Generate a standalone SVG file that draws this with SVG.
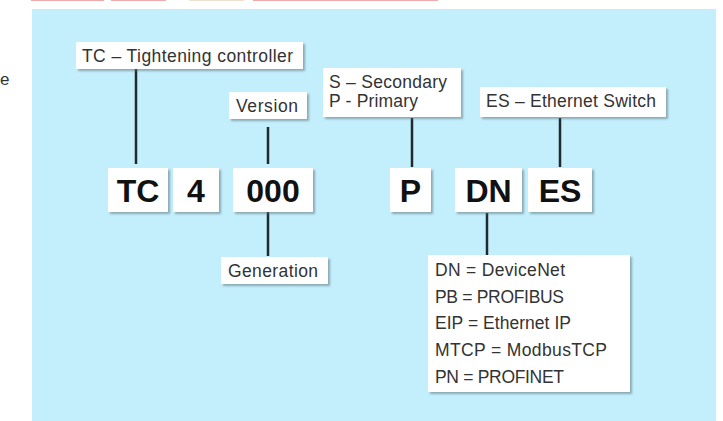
<svg xmlns="http://www.w3.org/2000/svg" width="723" height="421" viewBox="0 0 723 421">
<defs>
<filter id="sh" x="-10%" y="-10%" width="130%" height="140%">
<feDropShadow dx="2" dy="2" stdDeviation="0.8" flood-color="#5a6f78" flood-opacity="0.55"/>
</filter>
</defs>
<style>
.box{fill:#ffffff;filter:url(#sh)}
.lbl{font-family:"Liberation Sans",Arial,sans-serif;font-size:17.5px;fill:#333}
.big{font-family:"Liberation Sans",Arial,sans-serif;font-size:32px;font-weight:bold;fill:#111;text-anchor:middle}
.con{stroke:#1e2a2e;stroke-width:2.5;fill:none}
</style>
<rect x="0" y="0" width="723" height="421" fill="#ffffff"/>
<g id="topmarks">
<rect x="31" y="0" width="73" height="1" fill="#f1a8a8"/>
<rect x="111" y="0" width="55" height="1" fill="#f1a8a8"/>
<rect x="189" y="0" width="55" height="1" fill="#efe3cf"/>
<rect x="253" y="0" width="185" height="1" fill="#f1a8a8"/>
</g>
<text x="0" y="85" class="lbl" style="font-size:17px">e</text>
<rect id="panel" x="32" y="9" width="684" height="412" fill="#c3eefc"/>
<g id="connectors">
<line class="con" x1="136" y1="69" x2="136" y2="164"/>
<line class="con" x1="268" y1="127" x2="268" y2="164"/>
<line class="con" x1="268" y1="212" x2="268" y2="256"/>
<line class="con" x1="412" y1="118" x2="412" y2="167"/>
<line class="con" x1="560" y1="118" x2="560" y2="167"/>
<line class="con" x1="487" y1="213" x2="487" y2="256"/>
</g>
<g id="tc-label">
<rect class="box" x="76" y="42" width="227" height="27"/>
<text class="lbl" x="82" y="62" textLength="211" lengthAdjust="spacing">TC – Tightening controller</text>
</g>
<g id="version">
<rect class="box" x="229" y="92" width="78" height="27"/>
<text class="lbl" x="236" y="112" textLength="62" lengthAdjust="spacing">Version</text>
</g>
<g id="sp-label">
<rect class="box" x="323" y="68" width="138" height="49"/>
<text class="lbl" x="329" y="88" textLength="118" lengthAdjust="spacing">S – Secondary</text>
<text class="lbl" x="329" y="107" textLength="89" lengthAdjust="spacing">P - Primary</text>
</g>
<g id="es-label">
<rect class="box" x="480" y="87" width="186" height="30"/>
<text class="lbl" x="486" y="107" textLength="170" lengthAdjust="spacing">ES – Ethernet Switch</text>
</g>
<g id="tc">
<rect class="box" x="108" y="168" width="60" height="44"/>
<text class="big" x="138" y="202">TC</text>
</g>
<g id="four">
<rect class="box" x="173" y="168" width="46" height="44"/>
<text class="big" x="196" y="202">4</text>
</g>
<g id="zeros">
<rect class="box" x="233" y="168" width="80" height="44"/>
<text class="big" x="273" y="202">000</text>
</g>
<g id="p">
<rect class="box" x="390" y="168" width="41" height="44"/>
<text class="big" x="410.5" y="202">P</text>
</g>
<g id="dn">
<rect class="box" x="455" y="168" width="67" height="44"/>
<text class="big" x="488.5" y="202">DN</text>
</g>
<g id="es">
<rect class="box" x="528" y="168" width="64" height="44"/>
<text class="big" x="560" y="202">ES</text>
</g>
<g id="generation">
<rect class="box" x="221" y="257" width="107" height="27"/>
<text class="lbl" x="228" y="277" textLength="90" lengthAdjust="spacing">Generation</text>
</g>
<g id="bus-list">
<rect class="box" x="428" y="255" width="202" height="137"/>
<text class="lbl" x="435" y="276" textLength="130" lengthAdjust="spacing">DN = DeviceNet</text>
<text class="lbl" x="435" y="303" textLength="129" lengthAdjust="spacing">PB = PROFIBUS</text>
<text class="lbl" x="435" y="329" textLength="136" lengthAdjust="spacing">EIP = Ethernet IP</text>
<text class="lbl" x="435" y="356" textLength="172" lengthAdjust="spacing">MTCP = ModbusTCP</text>
<text class="lbl" x="435" y="383" textLength="129" lengthAdjust="spacing">PN = PROFINET</text>
</g>
</svg>
